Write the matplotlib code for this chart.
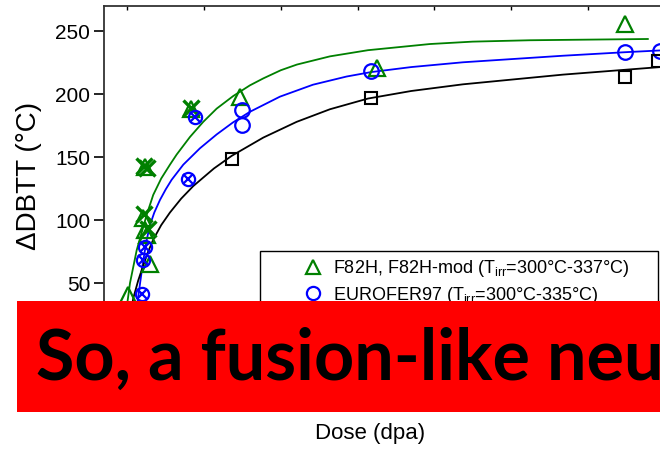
import matplotlib
matplotlib.use("Agg")
import matplotlib.pyplot as plt
from matplotlib.lines import Line2D
from matplotlib.patches import Rectangle

plt.rcParams['font.family'] = ['Liberation Sans', 'DejaVu Sans']

# fitted trend curves (dose in dpa, shift in degC)
f82h_fit_dose = [0.0, 0.33, 1.20, 2.50, 3.36, 4.4, 5.54, 6.41, 8.15, 9.88, 11.63, 13.79,
                 15.97, 17.71, 20.0, 22.10, 26.40, 31.36, 39.44, 45.0, 52.48, 67.86]
f82h_fit_dbtt = [35, 50, 76, 104, 120, 133, 144, 152, 166, 178, 188.5, 198.5,
                 207, 212.5, 219, 223.5, 230, 234.9, 239.8, 241.7, 242.8, 243.8]

euro_fit_dose = [1.0, 1.2, 1.76, 2.06, 2.5, 2.93, 3.5, 4.24, 5.0, 5.76, 7.28, 9.45,
                 11.63, 13.75, 15.97, 19.88, 24.19, 28.58, 31.75, 37.0, 43.74,
                 56.78, 64.86, 69.43, 80.0]
euro_fit_dbtt = [22, 30, 55, 68, 84, 96, 106, 116, 124.5, 132, 144, 157,
                 168, 177.5, 186, 198, 207.5, 214, 217.5, 221.5, 225.3,
                 230.5, 233.3, 234.7, 237]

other_fit_dose = [0.4, 0.76, 1.4, 2.06, 2.7, 3.36, 4.4, 5.54, 7.0, 8.58, 11.28, 13.59,
                  17.71, 22.06, 26.4, 31.36, 37.0, 43.74, 56.78, 69.43, 80.0]
other_fit_dbtt = [25, 38, 52, 64, 75, 84.5, 96, 106, 117, 127, 141, 151,
                  165.5, 178, 188, 196.5, 202.5, 207.8, 215.5, 221.5, 225.5]

# measured points
f82h_dose = [0.10, 2.02, 2.28, 2.54, 2.93, 2.35, 8.32, 14.67, 32.49, 64.86]
f82h_dbtt = [40.5, 101.6, 92, 88, 65, 142.5, 188.6, 198, 220.4, 256]

f82h_mod_dose = [2.1, 2.6, 2.1, 2.7, 8.3]
f82h_mod_dbtt = [143, 141, 105, 93, 189]

euro_dose = [14.89, 14.89, 31.75, 64.86, 69.43]
euro_dbtt = [187.3, 175.4, 218, 233.6, 234.6]

euro_x_dose = [7.92, 8.79, 2.28, 2.06, 1.86]
euro_x_dbtt = [133, 182, 78.8, 67.9, 41]

other_dose = [13.6, 31.73, 64.86, 69.2]
other_dbtt = [148.4, 197, 213.7, 226.4]

yticks = [50, 100, 150, 200, 250]
xticks = [0, 10, 20, 30, 40, 50, 60, 70, 80]

GREEN = '#008000'
BLUE = '#0000ff'

W, H = 660, 451
fig = plt.figure(figsize=(6.6, 4.51), dpi=100)
ax = fig.add_axes([104 / W, 1 - 346 / H, 640 / W, 340 / H])


def fx(px):
    return px / W


def fy(py):
    return 1 - py / H


ax.plot(f82h_fit_dose, f82h_fit_dbtt, color=GREEN, lw=1.3, zorder=2)
ax.plot(euro_fit_dose, euro_fit_dbtt, color=BLUE, lw=1.3, zorder=2)
ax.plot(other_fit_dose, other_fit_dbtt, color='black', lw=1.3, zorder=2)

ax.plot(f82h_dose, f82h_dbtt, ls='none', marker='^', ms=11, mfc='none',
        mec=GREEN, mew=1.6, zorder=3)
ax.plot(f82h_mod_dose, f82h_mod_dbtt, ls='none', marker='x', ms=11,
        mec=GREEN, mew=2.4, zorder=3)
ax.plot(euro_dose, euro_dbtt, ls='none', marker='o', ms=10.5, mfc='none',
        mec=BLUE, mew=1.6, zorder=3)
ax.plot(euro_x_dose, euro_x_dbtt, ls='none', marker='o', ms=9.5, mfc='none',
        mec=BLUE, mew=1.6, zorder=3)
ax.plot(euro_x_dose, euro_x_dbtt, ls='none', marker='x', ms=6.5,
        mec=BLUE, mew=1.6, zorder=3)
ax.plot(other_dose, other_dbtt, ls='none', marker='s', ms=8.5, mfc='none',
        mec='black', mew=1.5, zorder=3)

ax.set_xlim(-3.06, 80.4)
ax.set_ylim(0, 270)
ax.set_yticks(yticks)
ax.set_xticks(xticks)
ax.tick_params(axis='y', direction='out', length=7, width=1.2, labelsize=15, pad=3)
# the dose tick labels sit behind the banner
ax.tick_params(axis='x', direction='in', length=3, width=1, top=True,
               labelbottom=False)
for s in ax.spines.values():
    s.set_linewidth(1.3)
    s.set_color('#333333')

ax.set_ylabel('ΔDBTT (°C)', fontsize=20)
ax.yaxis.set_label_coords(-0.097, 0.5)
fig.text(fx(370), fy(433), 'Dose (dpa)', fontsize=16, ha='center', va='center')

# legend box (partly hidden by the banner)
fig.add_artist(Rectangle((fx(260), fy(340)), fx(658) - fx(260), fy(251) - fy(340),
                         transform=fig.transFigure, fc='white', ec='black',
                         lw=1.0, zorder=5))
fig.add_artist(Line2D([fx(313)], [fy(267)], transform=fig.transFigure, marker='^',
                      ms=10, mfc='none', mec=GREEN, mew=1.6, zorder=6))
fig.add_artist(Line2D([fx(313)], [fy(293)], transform=fig.transFigure, marker='o',
                      ms=9.5, mfc='none', mec=BLUE, mew=1.6, zorder=6))
fig.text(fx(333), fy(273.3), 'F82H, F82H-mod (T$_{\\mathregular{irr}}$=300°C-337°C)',
         fontsize=13, va='baseline', zorder=6)
fig.text(fx(333), fy(299.6), 'EUROFER97 (T$_{\\mathregular{irr}}$=300°C-335°C)',
         fontsize=13, va='baseline', zorder=6)

# red banner on top of the chart
fig.add_artist(Rectangle((fx(17), fy(411.5)), 1.2, fy(301) - fy(411.5),
                         transform=fig.transFigure, fc='#ff0000', ec='none', zorder=10))
fig.text(fx(36), fy(380), 'So, a fusion-like neut', fontsize=50.5, fontweight='bold',
         family=['Lato', 'DejaVu Sans'], va='baseline', color='black', zorder=11,
         clip_on=False)

fig.savefig('out.png', dpi=100)
